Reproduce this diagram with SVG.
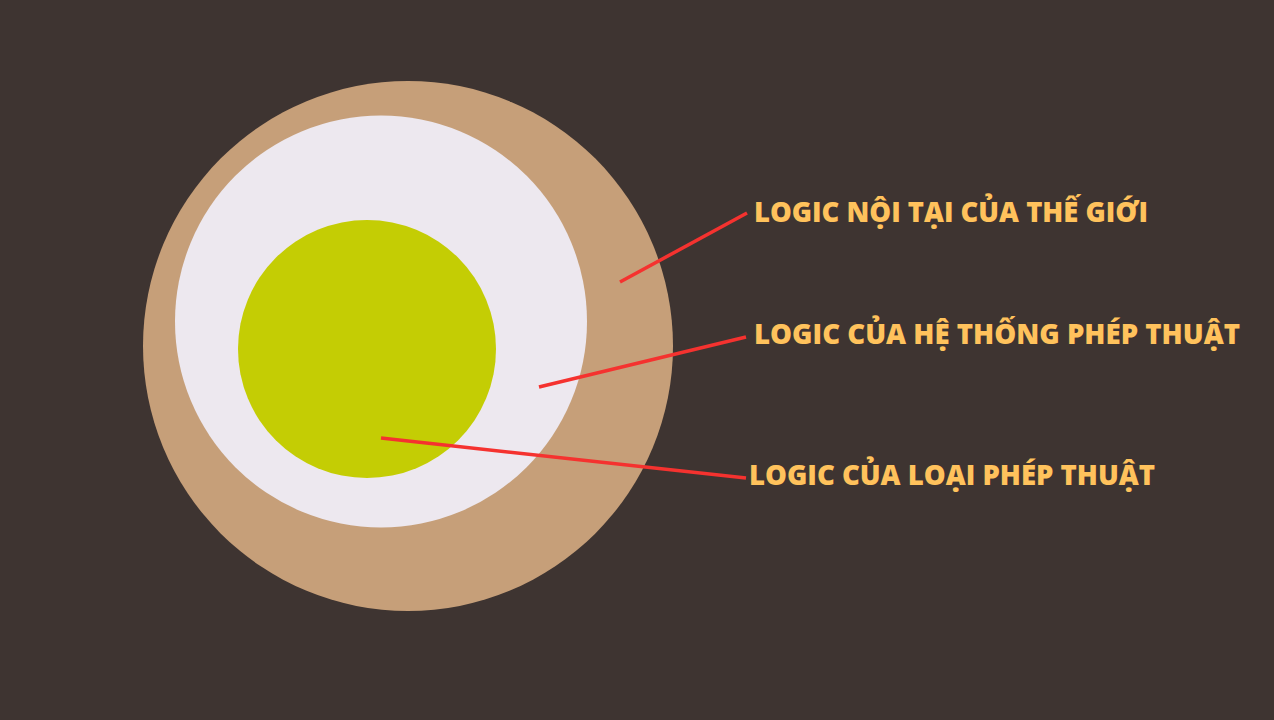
<svg xmlns="http://www.w3.org/2000/svg" width="1274" height="720" viewBox="0 0 1274 720">
<style>
.lbl{font-family:"Open Sans","Noto Sans","DejaVu Sans",sans-serif;font-weight:800;font-size:28px;fill:#FFC25C}
.con{stroke:#F5322F;stroke-width:3.5;stroke-linecap:butt;fill:none}
</style>
<rect width="1274" height="720" fill="#3E3431"/>
<g id="outer"><circle cx="408" cy="346" r="265" fill="#C69F79"/></g>
<g id="middle"><circle cx="381" cy="321.5" r="206" fill="#EDE8EF"/></g>
<g id="inner"><circle cx="367" cy="349" r="129" fill="#C4CD04"/></g>
<g id="connectors">
<line class="con" x1="620" y1="282" x2="747" y2="213"/>
<line class="con" x1="539" y1="387" x2="746" y2="337"/>
<line class="con" x1="381" y1="438" x2="746" y2="478"/>
</g>
<g id="label1"><text class="lbl" x="754" y="222" textLength="394" lengthAdjust="spacingAndGlyphs">LOGIC NỘI TẠI CỦA THẾ GIỚI</text></g>
<g id="label2"><text class="lbl" x="754" y="344" textLength="486" lengthAdjust="spacingAndGlyphs">LOGIC CỦA HỆ THỐNG PHÉP THUẬT</text></g>
<g id="label3"><text class="lbl" x="749" y="485" textLength="406" lengthAdjust="spacingAndGlyphs">LOGIC CỦA LOẠI PHÉP THUẬT</text></g>
</svg>
